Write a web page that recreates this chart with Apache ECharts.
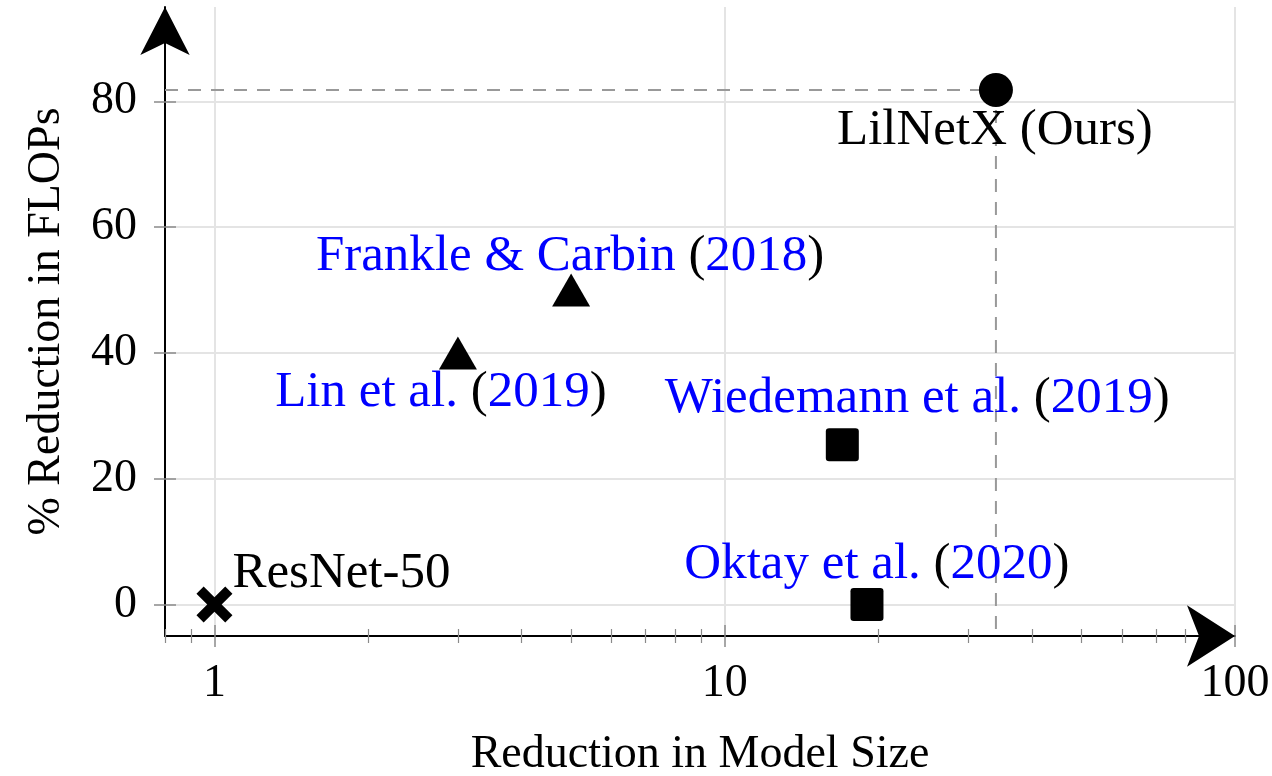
<!DOCTYPE html>
<html><head><meta charset="utf-8">
<script src="https://cdn.jsdelivr.net/npm/echarts@6/dist/echarts.min.js"></script>
<style>html,body{margin:0;padding:0;background:#fff}#c{width:1272px;height:776px}</style>
</head><body><div id="c"></div>
<script>
// ---- data ----
const methods = ['ResNet-50', 'Lin et al.', 'Frankle & Carbin', 'Wiedemann et al.', 'Oktay et al.', 'LilNetX (Ours)'];
const years = ['', '2019', '2018', '2019', '2020', ''];
const sizeReduction = [1, 3, 5, 17, 19, 34];
const flopsReduction = [0, 40, 50, 25.4, 0, 81.8];
const xTicks = [1, 10, 100];
const xMinorTicks = [0.8, 0.9, 2, 3, 4, 5, 6, 7, 8, 9, 20, 30, 40, 50, 60, 70, 80, 90];
const yTicks = [0, 20, 40, 60, 80];
const xAxisName = 'Reduction in Model Size';
const yAxisName = '% Reduction in FLOPs';
const oursIndex = 5;

// ---- styles ----
const FONT = 'Liberation Serif';
const BLUE = '#0000ff';
const crossPath = 'path://M0,2L2,0L5,3L8,0L10,2L7,5L10,8L8,10L5,7L2,10L0,8L3,5Z';
const squarePath = 'path://M1,0L9,0Q10,0 10,1L10,9Q10,10 9,10L1,10Q0,10 0,9L0,1Q0,0 1,0Z';
const pointStyles = [
  { symbol: crossPath, size: [36, 36], labelOffset: [127, -31] },
  { symbol: 'triangle', size: [38, 33], labelOffset: [-17, 40] },
  { symbol: 'triangle', size: [38, 33], labelOffset: [-1, -33] },
  { symbol: squarePath, size: [33, 33], labelOffset: [75, -46] },
  { symbol: squarePath, size: [33, 33], labelOffset: [10, -40] },
  { symbol: 'circle', size: [34, 34], labelOffset: [-1, 41] }
];

const X_MIN = 0.8, X_MAX = 100, Y_MIN = -5, Y_MAX = 95;

function labelText(i) {
  if (years[i]) return '{b|' + methods[i] + ' }{k|(}{b|' + years[i] + '}{k|)}';
  return '{k|' + methods[i] + '}';
}

const points = methods.map((m, i) => ({
  name: m,
  value: [sizeReduction[i], flopsReduction[i]],
  symbol: pointStyles[i].symbol,
  symbolSize: pointStyles[i].size,
  label: { offset: pointStyles[i].labelOffset, formatter: labelText(i) }
}));

const guide = [
  [X_MIN, flopsReduction[oursIndex]],
  [sizeReduction[oursIndex], flopsReduction[oursIndex]],
  [sizeReduction[oursIndex], Y_MIN]
];

const tickColor = '#8a8a8a';
function xAx(extra) {
  return Object.assign({
    type: 'log', logBase: 10, min: X_MIN, max: X_MAX, gridIndex: 0, position: 'bottom',
    axisLine: { show: false, onZero: false }, axisLabel: { show: false }, splitLine: { show: false },
    axisTick: { show: false }
  }, extra);
}
function yAx(extra) {
  return Object.assign({
    type: 'value', min: Y_MIN, max: Y_MAX, gridIndex: 0, position: 'left',
    axisLine: { show: false, onZero: false }, axisLabel: { show: false }, splitLine: { show: false },
    axisTick: { show: false }
  }, extra);
}

const chart = echarts.init(document.getElementById('c'), null, { renderer: 'canvas' });
chart.setOption({
  backgroundColor: '#fff',
  animation: false,
  textStyle: { fontFamily: FONT },
  grid: { left: 165, right: 37, top: 7, bottom: 140, containLabel: false, outerBoundsMode: 'none' },
  xAxis: [
    xAx({
      name: xAxisName, nameLocation: 'middle', nameGap: 96,
      nameTextStyle: { fontFamily: FONT, fontSize: 46, color: '#000' },
      axisLine: { show: true, onZero: false, lineStyle: { color: '#000', width: 2 },
        symbol: ['none', 'arrow'], symbolSize: [46, 48], symbolOffset: [0, 0] },
      axisTick: { show: true, inside: true, length: 11, customValues: xTicks, lineStyle: { color: tickColor, width: 1.5 } },
      axisLabel: { show: true, customValues: xTicks, margin: 25, fontFamily: FONT, fontSize: 46, color: '#000',
        formatter: v => String(Math.round(v)) },
      splitLine: { show: true, lineStyle: { color: '#e4e4e4', width: 2 } }
    }),
    xAx({ axisTick: { show: true, inside: false, length: 11, customValues: xTicks, lineStyle: { color: tickColor, width: 1.5 } } }),
    xAx({ axisTick: { show: true, inside: true, length: 7, customValues: xMinorTicks, lineStyle: { color: tickColor, width: 1.2 } } }),
    xAx({ axisTick: { show: true, inside: false, length: 7, customValues: xMinorTicks, lineStyle: { color: tickColor, width: 1.2 } } })
  ],
  yAxis: [
    yAx({
      name: yAxisName, nameLocation: 'middle', nameGap: 95,
      nameTextStyle: { fontFamily: FONT, fontSize: 46, color: '#000' },
      axisLine: { show: true, onZero: false, lineStyle: { color: '#000', width: 2 },
        symbol: ['none', 'arrow'], symbolSize: [37, 48], symbolOffset: [0, 0] },
      axisTick: { show: true, inside: true, length: 11, customValues: yTicks, lineStyle: { color: tickColor, width: 1.5 } },
      axisLabel: { show: true, customValues: yTicks, margin: 28, fontFamily: FONT, fontSize: 46, color: '#000' },
      splitLine: { show: true, lineStyle: { color: '#e4e4e4', width: 2 } }
    }),
    yAx({ axisTick: { show: true, inside: false, length: 11, customValues: yTicks, lineStyle: { color: tickColor, width: 1.5 } } })
  ],
  series: [
    {
      type: 'line', xAxisIndex: 0, yAxisIndex: 0, data: guide, symbol: 'none', z: 1,
      lineStyle: { color: '#999', width: 2, type: [13, 10] }, silent: true
    },
    {
      type: 'scatter', xAxisIndex: 0, yAxisIndex: 0, data: points, z: 3,
      itemStyle: { color: '#000', opacity: 1 },
      label: {
        show: true, position: 'inside', align: 'center', verticalAlign: 'middle',
        fontFamily: FONT, fontSize: 51,
        rich: {
          b: { fontFamily: FONT, fontSize: 51, color: BLUE },
          k: { fontFamily: FONT, fontSize: 51, color: '#000' }
        }
      }
    }
  ]
});
</script>
</body></html>
